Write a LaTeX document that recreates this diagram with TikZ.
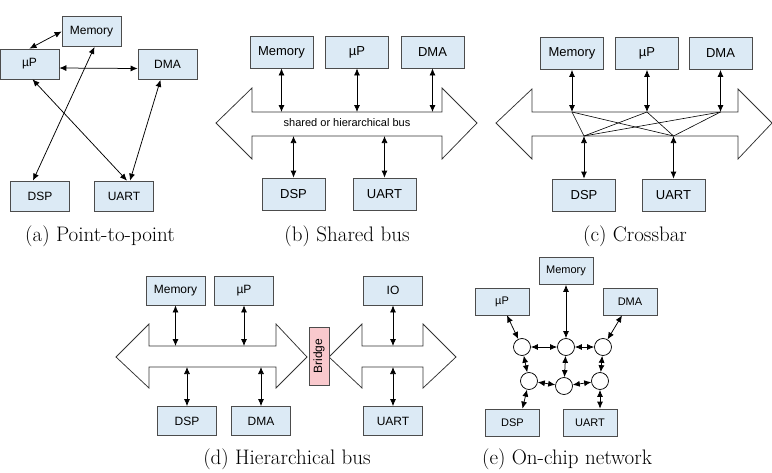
\documentclass[tikz,border=0pt]{standalone}
\usepackage{fontspec}
\newfontfamily\boxfont{Liberation Sans}
\usetikzlibrary{arrows.meta}
\definecolor{boxblue}{HTML}{DCEAF5}
\definecolor{bridgepink}{HTML}{F9C9CD}

\begin{document}
\begin{tikzpicture}[x=1pt, y=-1pt, >={Latex[length=7pt,width=6pt]}, line width=0.75pt]
  \tikzstyle{blk}=[draw=black!70, fill=boxblue, inner sep=0, font=\boxfont\fontsize{12}{14}\selectfont, minimum width=59, minimum height=30]
  \tikzstyle{blkb}=[blk, font=\boxfont\fontsize{13}{15}\selectfont, minimum width=63, minimum height=32]
  \tikzstyle{blke}=[blk, font=\boxfont\fontsize{11}{13}\selectfont, minimum width=54, minimum height=27]
  \tikzstyle{bus}=[draw=black!80, fill=white]
  \tikzstyle{rtr}=[circle, draw, fill=white, minimum size=17, inner sep=0]
  \tikzstyle{subcap}=[font=\fontsize{21}{24}\selectfont]

  \useasboundingbox (0,0) rectangle (772,472);

  % (a) point-to-point
  \node[blk] (aMem) at (91.5,31.5) {Memory};
  \node[blk] (aUP) at (29.5,64) {µP};
  \node[blk] (aDMA) at (167.5,64.5) {DMA};
  \node[blk] (aDSP) at (40,196) {DSP};
  \node[blk] (aUART) at (124,196) {UART};
  \draw[<->] (aUP.north) -- (aMem.west);
  \draw[<->] ([yshift=-4]aUP.east) -- ([yshift=-4]aDMA.west);
  \draw[<->] ([xshift=3]aMem.south) -- ([xshift=-7]aDSP.north);
  \draw[<->] ([xshift=3]aUP.south) -- ([xshift=3]aUART.north);
  \draw[<->] ([xshift=-7]aDMA.south) -- ([xshift=6]aUART.north);
  \node[subcap] (capa) at (100,236) {(a)~Point-to-point};

  % (b) shared bus
  \draw[bus] (216,123) -- (252,88) -- (252,112) -- (442,112) -- (442,88) -- (477,123)
    -- (442,159) -- (442,136) -- (252,136) -- (252,159) -- cycle;
  \node[font=\boxfont\fontsize{11}{13}\selectfont] (bLabel) at (347,123) {shared or hierarchical bus};
  \coordinate (bTop) at (0,112);
  \coordinate (bBot) at (0,136);
  \node[blkb] (bMem) at (281.5,52) {Memory};
  \node[blkb] (bUP) at (357,52) {µP};
  \node[blkb] (bDMA) at (432.5,52) {DMA};
  \node[blkb] (bDSP) at (293.5,194) {DSP};
  \node[blkb] (bUART) at (384.5,194) {UART};
  \foreach \n in {bMem,bUP,bDMA}
    \draw[<->] (\n) -- (\n |- bTop);
  \foreach \n in {bDSP,bUART}
    \draw[<->] (\n) -- (\n |- bBot);
  \node[subcap] (capb) at (347,236) {(b)~Shared bus};

  % (c) crossbar
  \draw[bus] (496,123) -- (532,89) -- (532,112) -- (738,112) -- (738,89) -- (772,123)
    -- (738,159) -- (738,136) -- (532,136) -- (532,159) -- cycle;
  \coordinate (cTop) at (0,112);
  \coordinate (cBot) at (0,136);
  \node[blkb] (cMem) at (572,53.5) {Memory};
  \node[blkb] (cUP) at (647,53.5) {µP};
  \node[blkb] (cDMA) at (720.5,53.5) {DMA};
  \node[blkb] (cDSP) at (584,195) {DSP};
  \node[blkb] (cUART) at (673.5,195) {UART};
  \foreach \t in {cMem,cUP,cDMA}
    \foreach \b in {cDSP,cUART}
      \draw[line width=0.6pt] (\t |- cTop) -- (\b |- cBot);
  \foreach \n in {cMem,cUP,cDMA}
    \draw[<->] (\n) -- (\n |- cTop);
  \foreach \n in {cDSP,cUART}
    \draw[<->] (\n) -- (\n |- cBot);
  \node[subcap] (capc) at (635,236) {(c)~Crossbar};

  % (d) hierarchical bus
  \draw[bus] (116,357) -- (149,324) -- (149,346) -- (276,346) -- (276,324) -- (307,357)
    -- (276,388) -- (276,367) -- (149,367) -- (149,388) -- cycle;
  \draw[bus] (329,357) -- (362,324) -- (362,346) -- (423,346) -- (423,324) -- (456,357)
    -- (423,388) -- (423,367) -- (362,367) -- (362,388) -- cycle;
  \node[draw=black!70, fill=bridgepink, rotate=90, inner sep=0, minimum width=58, minimum height=20,
    font=\boxfont\fontsize{12}{14}\selectfont] (dBridge) at (319,356) {Bridge};
  \coordinate (dTop) at (0,346);
  \coordinate (dBot) at (0,367);
  \node[blk, minimum height=29] (dMem) at (175.5,290.5) {Memory};
  \node[blk, minimum height=29] (dUP) at (244,290.5) {µP};
  \node[blk, minimum height=29] (dIO) at (393,290.5) {IO};
  \node[blk, minimum height=29] (dDSP) at (187,421) {DSP};
  \node[blk, minimum height=29] (dDMA) at (261,421) {DMA};
  \node[blk, minimum height=29] (dUART) at (393,421) {UART};
  \foreach \n in {dMem,dUP,dIO}
    \draw[<->] (\n) -- (\n |- dTop);
  \foreach \n in {dDSP,dDMA,dUART}
    \draw[<->] (\n) -- (\n |- dBot);
  \node[subcap] (capd) at (287,459) {(d)~Hierarchical bus};

  % (e) on-chip network
  \node[blke] (eMem) at (566,271) {Memory};
  \node[blke] (eUP) at (502,301.5) {µP};
  \node[blke] (eDMA) at (630,301.5) {DMA};
  \node[blke] (eDSP) at (512.5,422.5) {DSP};
  \node[blke] (eUART) at (590,422.5) {UART};
  \node[rtr] (n1) at (522,347) {};
  \node[rtr] (n2) at (566,347) {};
  \node[rtr] (n3) at (603,347) {};
  \node[rtr] (n4) at (529,381) {};
  \node[rtr] (n5) at (564,386) {};
  \node[rtr] (n6) at (600,381) {};
  \path (n1) edge[<->] (n2);
  \path (n2) edge[<->] (n3);
  \path (n1) edge[<->] (n4);
  \path (n2) edge[<->] (n5);
  \path (n3) edge[<->] (n6);
  \path (n4) edge[<->] (n5);
  \path (n5) edge[<->] (n6);
  \draw[<->] ([xshift=5]eUP.south) -- (n1);
  \draw[<->] (eMem) -- (n2);
  \draw[<->] ([xshift=-8]eDMA.south) -- (n3);
  \draw[<->] ([xshift=10]eDSP.north) -- (n4);
  \draw[<->] ([xshift=10]eUART.north) -- (n6);
  \node[subcap] (cape) at (567,459) {(e)~On-chip network};

\end{tikzpicture}
\end{document}
